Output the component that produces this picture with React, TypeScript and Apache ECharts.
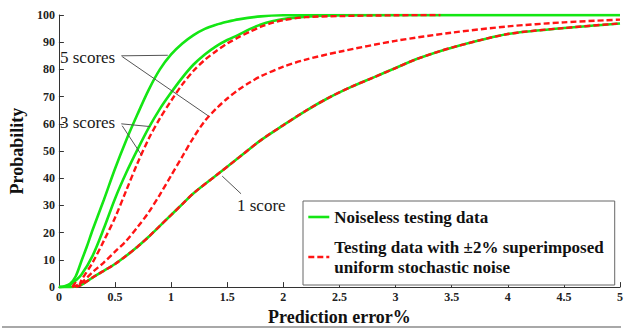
import React, { useEffect, useRef } from "react";
import * as echarts from "echarts";

const X_MIN = 0;
const X_MAX = 5;
const X_STEP = 0.5;
const Y_MIN = 0;
const Y_MAX = 100;
const Y_STEP = 10;

const LEGEND_NOISELESS = "Noiseless testing data";
const LEGEND_NOISY = "Testing data with ±2% superimposed\nuniform stochastic noise";

// 5 scores, noiseless
const G5_X = [0, 0.05, 0.1, 0.15, 0.2, 0.25, 0.3, 0.4, 0.5, 0.6, 0.7, 0.8, 0.9, 1.0, 1.1, 1.2, 1.3, 1.4, 1.5, 1.6, 1.8, 2.0, 2.5, 5];
const G5_Y = [0, 0.3, 1.2, 4, 9.5, 15, 21, 32, 43.5, 54, 63.5, 72.5, 80, 85.5, 89.5, 92.6, 94.9, 96.4, 97.5, 98.4, 99.5, 99.9, 100, 100];

// 3 scores, noiseless
const G3_X = [0, 0.05, 0.1, 0.15, 0.2, 0.3, 0.4, 0.5, 0.6, 0.7, 0.8, 0.9, 1.0, 1.1, 1.2, 1.3, 1.4, 1.5, 1.6, 1.7, 1.8, 1.9, 2.0, 2.2, 2.5, 3, 5];
const G3_Y = [0, 0.1, 0.8, 2.5, 4.5, 11.5, 21.5, 32.5, 42, 50.5, 58.5, 65.5, 71.5, 77, 81.8, 85.5, 88.5, 90.8, 92.7, 94.8, 96.5, 97.7, 98.5, 99.4, 99.9, 100, 100];

// 1 score, noiseless
const G1_X = [0, 0.1, 0.15, 0.2, 0.3, 0.4, 0.5, 0.6, 0.7, 0.8, 0.9, 1.0, 1.1, 1.2, 1.4, 1.6, 1.8, 2.0, 2.2, 2.4, 2.6, 2.8, 3.0, 3.2, 3.5, 4.0, 4.5, 5];
const G1_Y = [0, 0, 0.2, 0.8, 3.5, 6, 8.5, 11.5, 14.8, 18.5, 22.5, 26.5, 30.5, 34.5, 41, 47.5, 54, 59.5, 64.8, 69.5, 73.5, 77, 80.5, 84, 88, 93, 95.2, 96.9];

// 5 scores, with noise
const R5_X = [0.12, 0.15, 0.2, 0.3, 0.4, 0.5, 0.6, 0.7, 0.8, 0.9, 1.0, 1.1, 1.2, 1.3, 1.4, 1.5, 1.6, 1.7, 1.8, 2.0, 2.2, 2.5, 3.0, 3.5, 4.0, 4.5, 5];
const R5_Y = [0, 0.5, 1.5, 5.5, 9, 13, 17, 22, 27.5, 34, 41, 48, 55, 61, 65.5, 69.3, 72.5, 75.2, 77.5, 81, 83.6, 86.5, 90.5, 93.5, 95.8, 97.3, 98.3];

// 3 scores, with noise
const R3_X = [0.12, 0.15, 0.18, 0.2, 0.3, 0.4, 0.5, 0.6, 0.7, 0.8, 0.9, 1.0, 1.1, 1.2, 1.3, 1.4, 1.5, 1.6, 1.7, 1.8, 1.9, 2.0, 2.2, 2.5, 3.0, 3.4];
const R3_Y = [0, 1.5, 0.8, 2.5, 9, 17, 25.5, 35.5, 45.5, 54.5, 62, 68.5, 74.5, 79.5, 83.5, 86.7, 89.5, 91.8, 93.8, 95.7, 97.1, 98.1, 99.2, 99.6, 99.9, 100];

// 1 score, with noise
const R1_X = [0.15, 0.2, 0.3, 0.4, 0.5, 0.6, 0.7, 0.8, 0.9, 1.0, 1.1, 1.2, 1.4, 1.6, 1.8, 2.0, 2.2, 2.4, 2.6, 2.8, 3.0, 3.2, 3.5, 4.0, 4.5, 5];
const R1_Y = [0, 0.8, 3.5, 6, 8.5, 11.5, 14.8, 18.5, 22.5, 26.5, 30.5, 34.5, 41, 47.5, 54, 59.5, 64.8, 69.5, 73.5, 77, 80.5, 84, 88, 93, 95.2, 96.9];

// annotation arrows in data coordinates: [fromX, fromY, toX, toY]
const ARROWS = [
  [0.556, 85.0, 0.97, 85.2],
  [0.564, 84.7, 1.332, 62.9],
  [0.556, 60.0, 0.811, 59.0],
  [0.564, 59.3, 0.732, 48.8],
  [1.623, 34.3, 1.455, 40.8],
];

const GREEN = "#14e614";
const RED = "#ff1414";
const SERIF = "'Liberation Serif', 'Times New Roman', serif";

const zip = (xs: number[], ys: number[]) => xs.map((x, i) => [x, ys[i]]);

export default function App() {
  const ref = useRef<HTMLDivElement>(null);

  useEffect(() => {
    if (!ref.current) return;
    const chart = echarts.init(ref.current, undefined, { renderer: "svg" });

    const green = (data: number[][]) => ({
      type: "line",
      name: LEGEND_NOISELESS,
      data,
      showSymbol: false,
      symbol: "none",
      smooth: 0.3,
      lineStyle: { color: GREEN, width: 2.6 },
      itemStyle: { color: GREEN },
      z: 2,
    });
    const red = (data: number[][]) => ({
      type: "line",
      name: LEGEND_NOISY,
      data,
      showSymbol: false,
      symbol: "none",
      smooth: 0.3,
      lineStyle: { color: RED, width: 2.4, type: [6, 3] },
      itemStyle: { color: RED },
      z: 3,
    });

    const annText = (text: string, x: number, y: number) => ({
      type: "text",
      x,
      y,
      style: {
        text,
        font: `17px ${SERIF}`,
        fill: "#1a1a1a",
        verticalAlign: "middle",
      },
    });

    const option: any = {
      animation: false,
      backgroundColor: "#ffffff",
      grid: { left: 53, right: 11, top: 15, bottom: 40, containLabel: false },
      legend: {
        left: 303,
        top: 201,
        orient: "vertical",
        padding: [6, 11, 8, 4],
        itemGap: 10,
        itemWidth: 21,
        itemHeight: 10,
        borderColor: "#666",
        borderWidth: 1,
        backgroundColor: "#fff",
        selectedMode: false,
        textStyle: {
          fontFamily: SERIF,
          fontWeight: "bold",
          fontSize: 17,
          lineHeight: 20,
          color: "#111",
        },
        data: [
          {
            name: LEGEND_NOISELESS,
            lineStyle: { color: GREEN, width: 2.6 },
            itemStyle: { color: "rgba(0,0,0,0)", borderWidth: 0, opacity: 0 },
          },
          {
            name: LEGEND_NOISY,
            lineStyle: { color: RED, width: 2.4, type: [6, 3] },
            itemStyle: { color: "rgba(0,0,0,0)", borderWidth: 0, opacity: 0 },
          },
        ],
      },
      xAxis: {
        type: "value",
        min: X_MIN,
        max: X_MAX,
        interval: X_STEP,
        name: "Prediction error%",
        nameLocation: "middle",
        nameGap: 16,
        nameTextStyle: { fontFamily: SERIF, fontWeight: "bold", fontSize: 18, color: "#111", verticalAlign: "top" },
        axisLine: { lineStyle: { color: "#333", width: 1 } },
        axisTick: { inside: true, length: 5, lineStyle: { color: "#333" } },
        axisLabel: { fontFamily: SERIF, fontWeight: "bold", fontSize: 12, color: "#222", margin: 4 },
        splitLine: { show: false },
      },
      yAxis: {
        type: "value",
        min: Y_MIN,
        max: Y_MAX,
        interval: Y_STEP,
        name: "Probability",
        nameLocation: "middle",
        nameGap: 27,
        nameRotate: 90,
        nameTextStyle: { fontFamily: SERIF, fontWeight: "bold", fontSize: 18, color: "#111" },
        axisLine: { show: true, lineStyle: { color: "#333", width: 1 } },
        axisTick: { show: true, inside: true, length: 5, lineStyle: { color: "#333" } },
        axisLabel: { fontFamily: SERIF, fontWeight: "bold", fontSize: 12, color: "#222", margin: 4 },
        splitLine: { show: false },
      },
      series: [
        green(zip(G5_X, G5_Y)),
        green(zip(G3_X, G3_Y)),
        green(zip(G1_X, G1_Y)),
        red(zip(R5_X, R5_Y)),
        red(zip(R3_X, R3_Y)),
        red(zip(R1_X, R1_Y)),
        {
          type: "line",
          name: "annotations",
          data: [],
          silent: true,
          z: 5,
          markLine: {
            silent: true,
            animation: false,
            symbol: ["none", "arrow"],
            symbolSize: [0, 7],
            label: { show: false },
            lineStyle: { color: "#555", width: 1, type: "solid" },
            data: ARROWS.map((a) => [{ coord: [a[0], a[1]] }, { coord: [a[2], a[3]] }]),
          },
        },
      ],
      graphic: [
        annText("5 scores", 60, 57),
        annText("3 scores", 60, 122),
        annText("1 score", 237, 205),
        {
          type: "line",
          shape: { x1: 2, y1: 327, x2: 621, y2: 327 },
          style: { stroke: "#a8a8a8", lineWidth: 2 },
        },
      ],
    };

    chart.setOption(option);
    return () => chart.dispose();
  }, []);

  return (
    <div
      ref={ref}
      style={{ position: "fixed", left: 0, top: 0, width: 631, height: 331, background: "#fff" }}
    />
  );
}
